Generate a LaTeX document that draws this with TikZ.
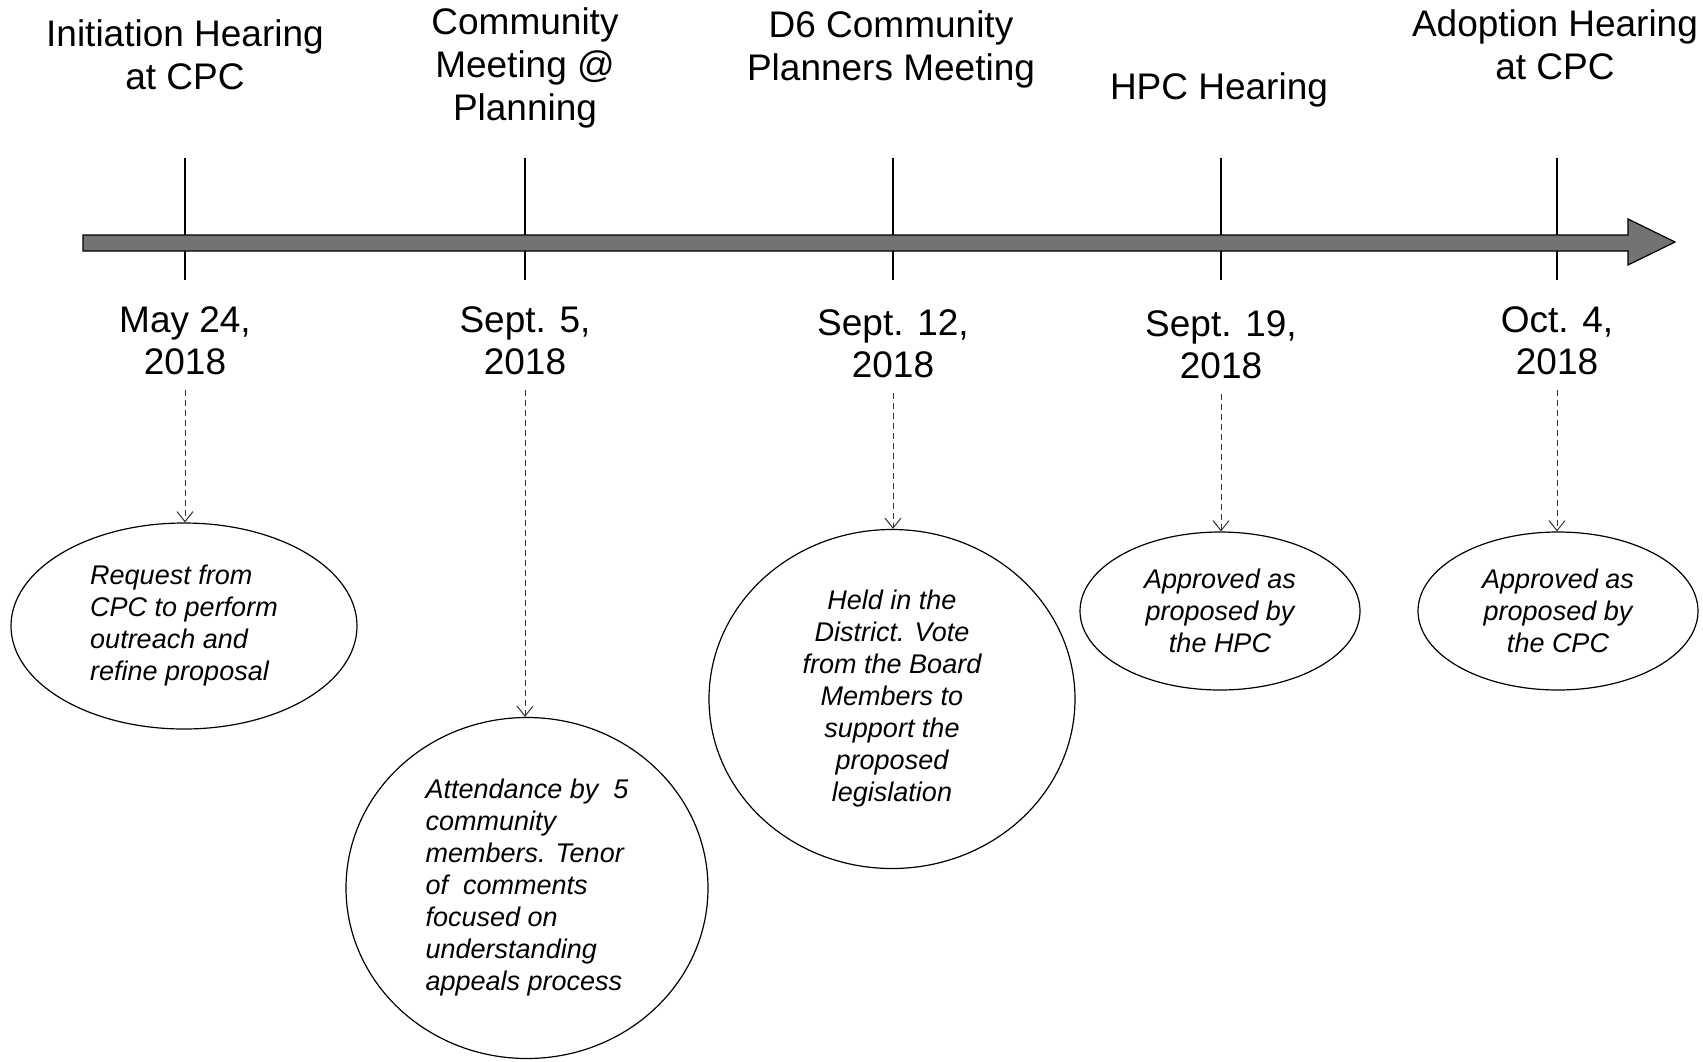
\documentclass[tikz,border=0pt]{standalone}
\usepackage{fontspec}
\setmainfont{Liberation Sans}
\usetikzlibrary{shapes.geometric,arrows.meta}
\tikzset{
  title/.style={font=\fontsize{18.5pt}{21.5pt}\selectfont, align=center, inner sep=0pt},
  datelbl/.style={font=\fontsize{18.5pt}{21pt}\selectfont, align=center, inner sep=2pt},
  bubble/.style={draw, ellipse, inner sep=0pt, line width=0.6pt,
    font=\fontsize{13.5pt}{16pt}\selectfont\itshape},
  tick/.style={line width=0.7pt},
  link/.style={line width=0.5pt, black!80, dash pattern=on 3pt off 2pt,
    -{Straight Barb[length=5pt,width=8pt]}, shorten <=5pt},
}
\begin{document}
\begin{tikzpicture}[x=0.5pt,y=-0.5pt]
\useasboundingbox (0,0) rectangle (1703,1061);
% titles
\node[title] (t1) at (185,55) {Initiation Hearing\\at CPC};
\node[title] (t2) at (525,68) {Community\\Meeting @\\Planning};
\node[title] (t3) at (891,49) {D6 Community\\Planners Meeting};
\node[title] (t4) at (1219,90) {HPC Hearing};
\node[title] (t5) at (1555,45) {Adoption Hearing\\at CPC};
% ticks
\foreach \x in {185,525,893,1221,1557}{
  \draw[tick] (\x,158) -- (\x,280);
}
% main arrow
\draw[fill=black!55, line width=0.6pt] (83,235) -- (1628,235) -- (1628,219) -- (1675,242)
  -- (1628,265) -- (1628,251) -- (83,251) -- cycle;
% dates
\node[datelbl] (d1) at (185,341) {May 24,\\2018};
\node[datelbl] (d2) at (525,341) {Sept. 5,\\2018};
\node[datelbl] (d3) at (893,344) {Sept. 12,\\2018};
\node[datelbl] (d4) at (1221,345) {Sept. 19,\\2018};
\node[datelbl] (d5) at (1557,341) {Oct. 4,\\2018};
% bubbles
\node[bubble, minimum width=173pt, minimum height=103pt, align=left] (e1) at (184,626)
  {Request from\\CPC to perform\\outreach and\\refine proposal};
\node[bubble, minimum width=181pt, minimum height=170.5pt, align=left] (e2) at (527,888)
  {Attendance by\ \ 5\\community\\members. Tenor\\of\ \ comments\\focused on\\understanding\\appeals process};
\node[bubble, minimum width=183pt, minimum height=169.5pt, align=center] (e3) at (892,699)
  {Held in the\\District. Vote\\from the Board\\Members to\\support the\\proposed\\legislation};
\node[bubble, minimum width=140pt, minimum height=79pt, align=center] (e4) at (1220,611)
  {Approved as\\proposed by\\the HPC};
\node[bubble, minimum width=140pt, minimum height=79pt, align=center] (e5) at (1558,611)
  {Approved as\\proposed by\\the CPC};
% links
\draw[link] (d1.south) -- (d1.south |- e1.north);
\draw[link] (d2.south) -- (d2.south |- e2.north);
\draw[link] (d3.south) -- (d3.south |- e3.north);
\draw[link] (d4.south) -- (d4.south |- e4.north);
\draw[link] (d5.south) -- (d5.south |- e5.north);
\end{tikzpicture}
\end{document}
